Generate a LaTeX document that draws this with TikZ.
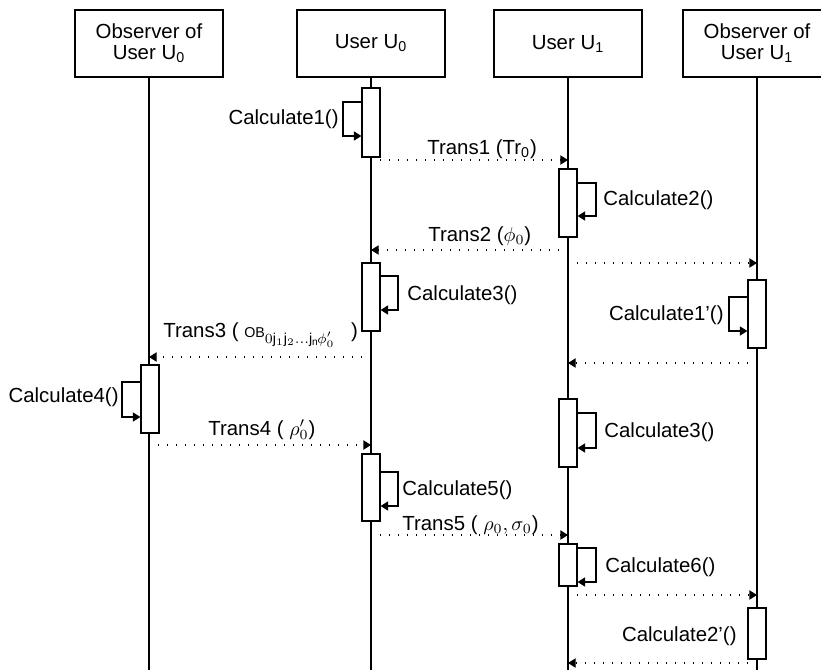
\documentclass[tikz,border=0pt]{standalone}
\usepackage{fontspec}
\setmainfont{Liberation Sans}
\usetikzlibrary{arrows.meta}
\begin{document}
\begin{tikzpicture}[x=0.5pt,y=-0.5pt,
  every node/.style={font=\fontsize{10.2}{11.5}\selectfont},
  head/.style={draw, line width=0.6pt, minimum width=74pt, minimum height=33.5pt, align=center, inner sep=0pt,
    font=\fontsize{10.2}{10.6}\selectfont},
  life/.style={line width=0.6pt},
  act/.style={draw, fill=white, line width=0.6pt, minimum width=9pt, inner sep=0pt},
  tip/.style={-{Triangle[length=3.8pt,width=4.6pt]}},
  selfcall/.style={line width=0.6pt, tip},
  msg/.style={line width=0.6pt, dash pattern=on 0.6pt off 3.9pt, tip},
  lbl/.style={inner sep=0pt}
]
\useasboundingbox (0,0) rectangle (821,670);
\clip (0,0) rectangle (821,670);

% header boxes
\node[head] (h1) at (149,43.5) {Observer of\\User U\textsubscript{0}};
\node[head] (h2) at (371,43.5) {User U\textsubscript{0}};
\node[head] (h3) at (568,43.5) {User U\textsubscript{1}};
\node[head] (h4) at (757,43.5) {Observer of\\User U\textsubscript{1}};

% lifelines
\coordinate (bot) at (0,672);
\foreach \h in {h1,h2,h3,h4}
  \draw[life] (\h.south) -- (\h.south |- bot);

% activation bars
\node[act, minimum height=34.5pt] (a1) at (371,122.5) {};
\node[act, minimum height=34pt]   (a2) at (568,203) {};
\node[act, minimum height=34pt]   (a3) at (371,297) {};
\node[act, minimum height=34pt]   (a4) at (757,314) {};
\node[act, minimum height=34pt]   (a5) at (150,399) {};
\node[act, minimum height=34pt]   (a6) at (568,433) {};
\node[act, minimum height=33.5pt] (a7) at (371,487.5) {};
\node[act, minimum height=21pt]   (a8) at (568,565) {};
\node[act, minimum height=25.5pt] (a9) at (757,633.5) {};

% self calls
\draw[selfcall] (a1.west |- 0,102) -- (343,102) |- (a1.west |- 0,136);
\draw[selfcall] (a2.east |- 0,183) -- (596,183) |- (a2.east |- 0,216);
\draw[selfcall] (a3.east |- 0,276) -- (398,276) |- (a3.east |- 0,310);
\draw[selfcall] (a4.west |- 0,297) -- (729,297) |- (a4.west |- 0,331);
\draw[selfcall] (a5.west |- 0,382) -- (122,382) |- (a5.west |- 0,417);
\draw[selfcall] (a6.east |- 0,413) -- (596,413) |- (a6.east |- 0,448);
\draw[selfcall] (a7.east |- 0,472) -- (398,472) |- (a7.east |- 0,506);
\draw[selfcall] (a8.east |- 0,548) -- (596,548) |- (a8.east |- 0,582);

% self call labels
\node[lbl, anchor=east] (c1)  at (339,119) {Calculate1()};
\node[lbl, anchor=west] (c2)  at (603,200) {Calculate2()};
\node[lbl, anchor=west] (c3)  at (407,295) {Calculate3()};
\node[lbl, anchor=east] (c1p) at (724,315) {Calculate1'()};
\node[lbl, anchor=east] (c4)  at (119,397) {Calculate4()};
\node[lbl, anchor=west] (c3b) at (604,432) {Calculate3()};
\node[lbl, anchor=west] (c5)  at (402,490) {Calculate5()};
\node[lbl, anchor=west] (c6)  at (605,567) {Calculate6()};
\node[lbl, anchor=east] (c2p) at (737,636) {Calculate2'()};

% message end points on the lifelines
\coordinate (m1s) at (h2.south |- 0,160); \coordinate (m1e) at (h3.south |- 0,160);
\coordinate (m2s) at (h3.south |- 0,250); \coordinate (m2e) at (h2.south |- 0,250);
\coordinate (m3s) at (h3.south |- 0,263); \coordinate (m3e) at (h4.south |- 0,263);
\coordinate (m4s) at (h4.south |- 0,363); \coordinate (m4e) at (h3.south |- 0,363);
\coordinate (m5s) at (h2.south |- 0,357); \coordinate (m5e) at (h1.south |- 0,357);
\coordinate (m6s) at (h1.south |- 0,445); \coordinate (m6e) at (h2.south |- 0,445);
\coordinate (m7s) at (h2.south |- 0,535); \coordinate (m7e) at (h3.south |- 0,535);
\coordinate (m8s) at (h3.south |- 0,595); \coordinate (m8e) at (h4.south |- 0,595);
\coordinate (m9s) at (h4.south |- 0,663); \coordinate (m9e) at (h3.south |- 0,663);

% messages
\foreach \m in {m1,m2,m3,m4,m5,m6,m7,m8,m9}
  \draw[msg] (\m s) -- (\m e);

% message labels
\node[lbl, anchor=base west] (t1) at (427,154) {Trans1 (Tr\textsubscript{0})};
\node[lbl, anchor=base west] (t2) at (428,241) {Trans2 ($\phi_0$)};
\node[lbl, anchor=base west] (t3) at (163,337) {Trans3 ( $\scriptstyle\mathrm{OB}_{\scriptstyle 0\mathrm{j}_1\mathrm{j}_2\ldots\mathrm{j}_\mathrm{n}\mkern-2mu\phi_0'}$\hspace{5pt} )};
\node[lbl, anchor=base west] (t4) at (208,435) {Trans4 ( $\rho_0'$)};
\node[lbl, anchor=base west] (t5) at (402,530) {Trans5 ( $\rho_0, \sigma_0$)};
\end{tikzpicture}
\end{document}
